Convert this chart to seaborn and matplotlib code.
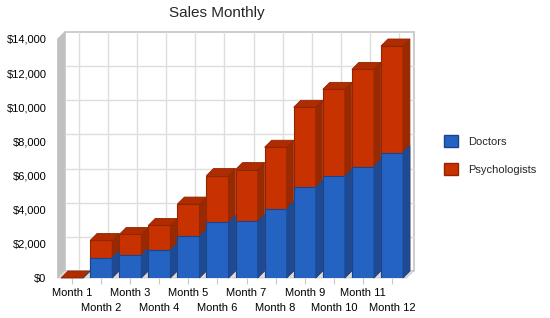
import numpy as np
import matplotlib
matplotlib.use('Agg')
import matplotlib.pyplot as plt
from matplotlib.patches import Polygon, Patch
import seaborn as sns

months = ['Month %d' % i for i in range(1, 13)]
doctors = [0, 1200, 1330, 1640, 2440, 3260, 3310, 4070, 5320, 5950, 6530, 7350]
psychologists = [0, 1000, 1220, 1440, 1890, 2740, 3040, 3590, 4680, 5100, 5690, 6240]
y_ticks = [0, 2000, 4000, 6000, 8000, 10000, 12000, 14000]

totals = np.array(doctors) + np.array(psychologists)

sns.set_theme(style='white')
plt.rcParams['font.family'] = ['Liberation Sans', 'DejaVu Sans']

# colours for faces of the 3d bars
red_front, red_side, red_top, red_edge = '#c83200', '#982900', '#b02c00', '#8f2600'
blue_front, blue_side, blue_edge = '#2563c2', '#1d4a92', '#1b438c'

fig = plt.figure(figsize=(5.5, 3.18), dpi=100)
ax = fig.add_axes([57.5 / 550, 40 / 318, 349 / 550, 239 / 318])

ymax = y_ticks[-1]
dx = 7 / 29.08            # depth in category units
dy = 7 / 239 * ymax       # depth in value units
x0, x1 = -0.5, len(months) - 0.5

# walls
ax.add_patch(Polygon([(x0 + dx, dy), (x1 + dx, dy), (x1 + dx, ymax + dy), (x0 + dx, ymax + dy)],
                     closed=True, facecolor='white', edgecolor='#c4c4c4', lw=1.2, clip_on=False, zorder=0))
ax.add_patch(Polygon([(x0, 0), (x0 + dx, dy), (x0 + dx, ymax + dy), (x0, ymax)],
                     closed=True, facecolor='#c0c0c0', edgecolor='#c0c0c0', lw=0.5, clip_on=False, zorder=0.2))
ax.add_patch(Polygon([(x0, 0), (x1, 0), (x1 + dx, dy), (x0 + dx, dy)],
                     closed=True, facecolor='#dcdcdc', edgecolor='#c8c8c8', lw=0.5, clip_on=False, zorder=0.2))

# back wall grid
for v in y_ticks[1:-1]:
    ax.plot([x0 + dx, x1 + dx], [v + dy, v + dy], color='#dedede', lw=1, clip_on=False, zorder=0.1)
for i in range(len(months)):
    ax.plot([i + dx, i + dx], [dy, ymax + dy], color='#dedede', lw=1, clip_on=False, zorder=0.1)

bar_w = 22 / 29.08
sns.barplot(x=months, y=totals, color=red_front, saturation=1, width=bar_w,
            edgecolor=red_edge, linewidth=0.8, ax=ax, zorder=2)
red_bars = ax.containers[-1]
sns.barplot(x=months, y=doctors, color=blue_front, saturation=1, width=bar_w,
            edgecolor=blue_edge, linewidth=0.8, ax=ax, zorder=4)
blue_bars = ax.containers[-1]

def add_depth(bar, side, top, edge, z):
    xl = bar.get_x()
    xr = xl + bar.get_width()
    h = bar.get_height()
    ax.add_patch(Polygon([(xr, 0), (xr + dx, dy), (xr + dx, h + dy), (xr, h)], closed=True,
                         facecolor=side, edgecolor=side, lw=0.5, clip_on=False, zorder=z))
    if top is not None:
        ax.add_patch(Polygon([(xl, h), (xr, h), (xr + dx, h + dy), (xl + dx, h + dy)], closed=True,
                             facecolor=top, edgecolor=edge, lw=0.6, clip_on=False, zorder=z))

for b in red_bars:
    add_depth(b, red_side, red_top, red_edge, 2.5)
for b in blue_bars:
    add_depth(b, blue_side, None, blue_edge, 4.5)

ax.set_xlim(x0, x1)
ax.set_ylim(0, ymax)
for s in ax.spines.values():
    s.set_visible(False)

ax.set_yticks(y_ticks)
ax.set_yticklabels(['${:,}'.format(v) for v in y_ticks], fontsize=8, color='black')
ax.tick_params(axis='y', length=0, pad=8)

# odd months on the first row, even months on the second row
ax.set_xticks(range(0, len(months), 2))
ax.set_xticklabels(months[0::2], fontsize=8, color='black')
ax.set_xticks(range(1, len(months), 2), minor=True)
ax.set_xticklabels(months[1::2], minor=True, fontsize=8, color='black')
ax.tick_params(axis='x', which='major', length=4, width=0.8, color='#c8c8c8', pad=3, bottom=True)
ax.tick_params(axis='x', which='minor', length=4, width=0.8, color='#c8c8c8', pad=14, bottom=True)
ax.set_xlabel('')
ax.set_ylabel('')

handles = [Patch(facecolor=blue_front, edgecolor=blue_edge, label='Doctors'),
           Patch(facecolor=red_front, edgecolor=red_edge, label='Psychologists')]
fig.legend(handles=handles, loc='center left', bbox_to_anchor=(434 / 550, 1 - 155 / 318),
           frameon=False, fontsize=8, handlelength=1.25, handleheight=1.25,
           labelspacing=1.45, handletextpad=0.9)

fig.text(217 / 550, 1 - 13 / 318, 'Sales Monthly', ha='center', va='center', fontsize=11)

fig.savefig('out.png', dpi=100)
